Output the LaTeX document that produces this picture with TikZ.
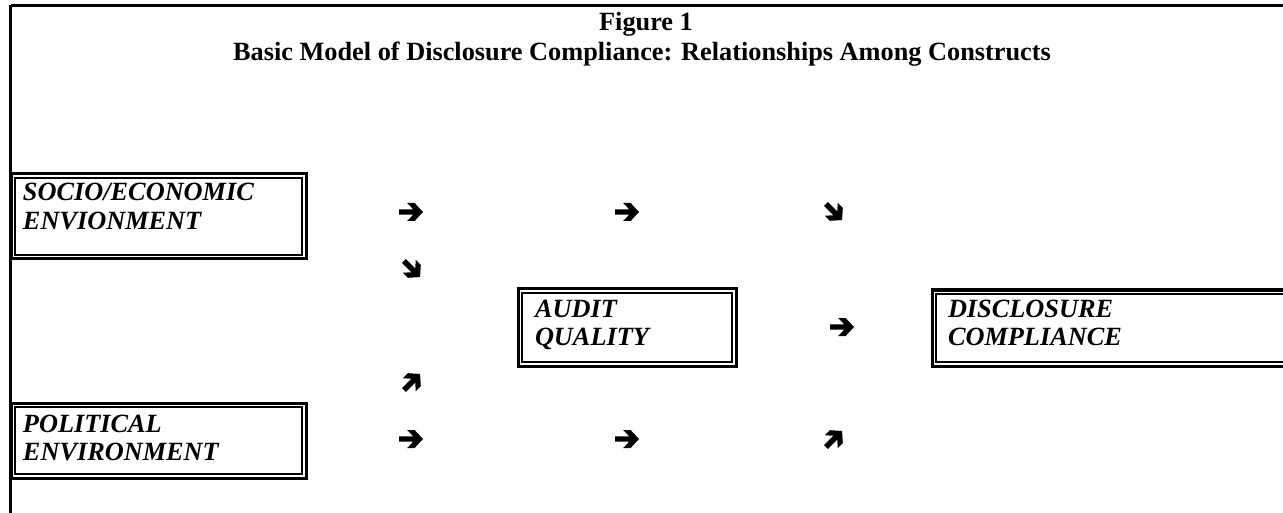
\documentclass[tikz,border=0pt]{standalone}
\usepackage{fontspec}
\setmainfont{Liberation Serif}
\begin{document}
\begin{tikzpicture}[x=1pt,y=-1pt,
  frame/.style={line width=2.6pt},
  cbox/.style={draw, line width=3pt, rectangle, outer sep=0pt, inner ysep=0pt,
    align=left, font=\fontsize{26.3}{28.8}\selectfont\bfseries\itshape, anchor=base west},
  innerline/.style={line width=1.1pt},
  ttl/.style={font=\fontsize{26.3}{28.8}\selectfont\bfseries, anchor=base, inner sep=0pt},
  warrow/.pic={\fill (-12,-2.7) -- (2.2,-2.7) -- (-3.8,-9) -- (3.6,-9) -- (12,0) -- (3.6,9) -- (-3.8,9) -- (2.2,2.7) -- (-12,2.7) -- cycle;},
  darrow/.pic={\fill[scale=0.95] (-12,-2.9) -- (2.0,-2.9) -- (-4,-9.5) -- (3.6,-9.5) -- (12,0) -- (3.6,9.5) -- (-4,9.5) -- (2.0,2.9) -- (-12,2.9) -- cycle;}
]
\useasboundingbox (0,0) rectangle (1283,513);
% outer frame (top and left only)
\draw[frame] (10.5,5.5) -- (1300,5.5);
\draw[frame] (10.5,5.5) -- (10.5,520);
% title
\node[ttl] (t1) at (646,31) {Figure 1};
\node[ttl] (t2) at (642,61) {Basic Model of Disclosure Compliance: Relationships Among Constructs};
% boxes
\node[cbox, inner xsep=12pt, text width=271pt, text height=27pt, text depth=58pt] (soc) at (11,201) {SOCIO/ECONOMIC\\ENVIONMENT};
\node[cbox, inner xsep=17pt, text width=184pt, text height=28pt, text depth=49pt] (aud) at (518,317) {AUDIT\\QUALITY};
\node[cbox, inner xsep=16pt, text width=336pt, text height=27pt, text depth=49pt] (dis) at (932,317) {DISCLOSURE\\COMPLIANCE};
\node[cbox, inner xsep=12pt, text width=271pt, text height=29pt, text depth=46pt] (pol) at (11,432) {POLITICAL\\ENVIRONMENT};
\foreach \n in {soc,aud,dis,pol}
  \draw[innerline] ([shift={(4,4)}]\n.north west) rectangle ([shift={(-4,-4)}]\n.south east);
% arrow glyphs
\pic at (411,212) {warrow};
\pic at (627,212) {warrow};
\pic[rotate=-45] at (834,212) {darrow};
\pic[rotate=-45] at (412,269) {darrow};
\pic at (842,327) {warrow};
\pic[rotate=45] at (412,382) {darrow};
\pic at (411,439) {warrow};
\pic at (627,439) {warrow};
\pic[rotate=45] at (834,439) {darrow};
\end{tikzpicture}
\end{document}
